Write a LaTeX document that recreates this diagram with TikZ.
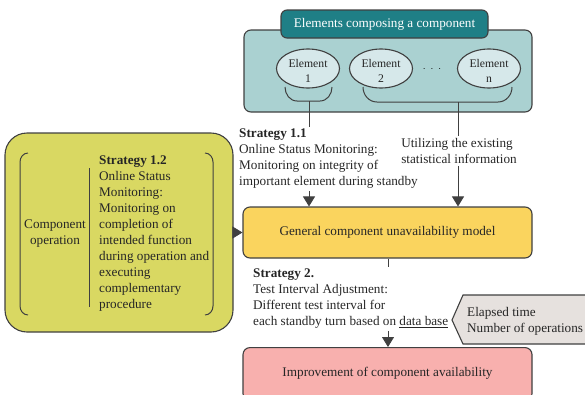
\documentclass[tikz,border=0pt]{standalone}
\usepackage{fontspec}
\setmainfont{Liberation Serif}
\usetikzlibrary{arrows.meta,shapes.geometric,calc}
\definecolor{tealbg}{RGB}{170,209,209}
\definecolor{tealdark}{RGB}{31,127,134}
\definecolor{ellfill}{RGB}{214,232,234}
\definecolor{leftfill}{RGB}{217,216,98}
\definecolor{genfill}{RGB}{250,212,94}
\definecolor{pinkfill}{RGB}{248,176,174}
\definecolor{grayfill}{RGB}{230,225,222}
\definecolor{bord}{RGB}{64,64,64}
\tikzset{
  txt/.style={font=\fontsize{13.2}{16}\selectfont, align=left, inner sep=2pt, text=black!85},
  boxx/.style={draw=bord, line width=1.1pt, rounded corners=7pt},
  ell/.style={ellipse, draw=bord, line width=1.1pt, fill=ellfill, minimum width=63pt, minimum height=39pt, inner sep=0pt},
  elltxt/.style={align=center, font=\fontsize{11.7}{15}\selectfont, text=black!85, inner sep=0pt},
  conn/.style={draw=bord, line width=0.8pt},
  arr/.style={conn, -{Triangle[length=10pt,width=12pt]}},
  brk/.style={draw=bord, line width=1pt}
}
\begin{document}
\begin{tikzpicture}[x=1pt,y=-1pt]
\useasboundingbox (0,0) rectangle (585,394);
% top teal box
\node[boxx, fill=tealbg, minimum width=288pt, minimum height=82pt] (elbox) at (388,71) {};
\node[boxx, fill=tealdark, minimum width=207pt, minimum height=28pt, rounded corners=6pt, text=white, font=\fontsize{13.2}{15}\selectfont] (title) at (384.5,24) {Elements composing a component};
\node[ell] (e1) at (308,68.5) {};
\node[ell] (e2) at (381,68.5) {};
\node[ell] (en) at (489,68.5) {};
\node[elltxt] (e1t) at (308,71) {Element\\1};
\node[elltxt] (e2t) at (381,71) {Element\\2};
\node[elltxt] (ent) at (489,71) {Element\\n};
\node[font=\fontsize{10}{12}\selectfont] (dots) at (432,69) {$\cdot\;\cdot\;\cdot$};
% braces
\draw[brk] (285,87) to[out=-90,in=180] (297,101) -- (320,101) to[out=0,in=-90] (332,87);
\coordinate (b1) at (309,101);
\draw[brk] (363,87) to[out=-90,in=180] (377,102) -- (498,102) to[out=0,in=-90] (512,87);
\coordinate (b2) at (458,102);
% strategy 1.1
\node[txt, anchor=north west] (s11) at (237,127) {\textbf{Strategy 1.1}\\Online Status Monitoring:\\Monitoring on integrity of\\important element during standby};
\node[txt, align=left] (util) at (459,151) {Utilizing the existing\\statistical information};
% general box
\node[boxx, fill=genfill, minimum width=289pt, minimum height=51pt, font=\fontsize{13.2}{15}\selectfont, text=black!85] (gen) at (387.5,232.5) {General component unavailability model};
% left box
\node[boxx, fill=leftfill, minimum width=228pt, minimum height=199pt, rounded corners=22pt] (left) at (119,232.5) {};
\draw[brk] (28,153) to[out=180,in=90] (20,162) -- (20,306) to[out=-90,in=180] (28,315);
\draw[brk] (205,153) to[out=0,in=90] (213,162) -- (213,306) to[out=-90,in=0] (205,315);
\draw[brk] (89,168) -- (89,307);
\node[txt, align=center] (compop) at (55,234) {Component\\operation};
\node[txt, anchor=north west] (s12) at (97,154) {\textbf{Strategy 1.2}\\Online Status\\Monitoring:\\Monitoring on\\completion of\\intended function\\during operation and\\executing\\complementary\\procedure};
% strategy 2
\node[txt, anchor=north west] (s2) at (251,267) {\textbf{Strategy 2.}\\Test Interval Adjustment:\\Different test interval for\\each standby turn based on \underline{data base}};
% pink box
\node[boxx, fill=pinkfill, minimum width=289pt, minimum height=53pt, anchor=north] (impr) at (387.5,347) {};
\node[font=\fontsize{13.2}{15}\selectfont, text=black!85] (imprt) at (387.5,373) {Improvement of component availability};
% elapsed pentagon
\draw[draw=bord, line width=1.1pt, fill=grayfill] (452,320) -- (463,295) -- (592,295) -- (592,344) -- (463,344) -- cycle;
\node[txt, anchor=west] (elapsed) at (465,321.5) {Elapsed time\\Number of operations};
% connectors
\draw[conn] (b1) -- (b1 |- s11.north);
\draw[arr] (b1 |- s11.south) -- (b1 |- gen.north);
\draw[conn] (b2) -- (b2 |- util.north);
\draw[arr] (b2 |- util.south) -- (b2 |- gen.north);
\draw[arr] (left.east) -- (gen.west);
\coordinate (c2) at (388,258);
\draw[conn] (gen.south -| c2) -- (c2 |- s2.north);
\draw[arr] (c2 |- s2.south) -- (c2 |- impr.north);
\end{tikzpicture}
\end{document}
